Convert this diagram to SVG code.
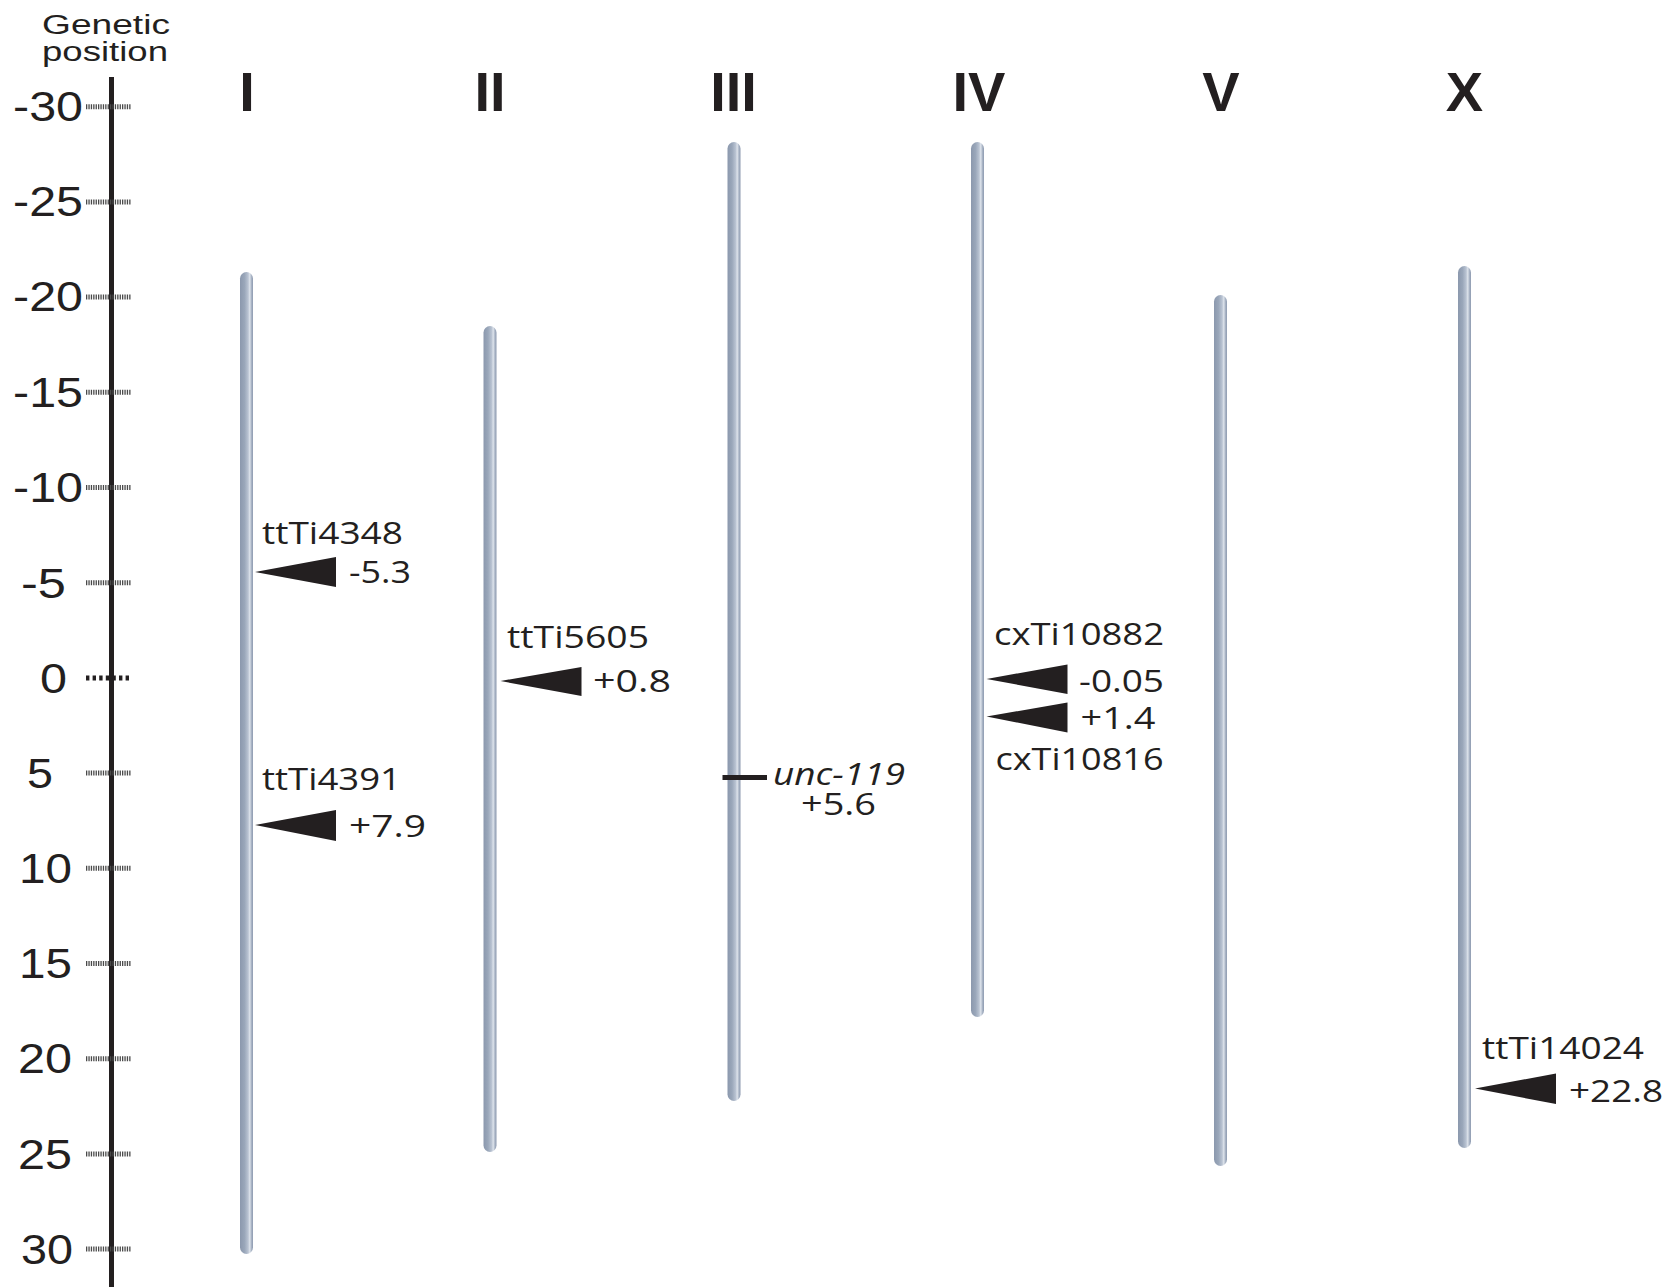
<svg xmlns="http://www.w3.org/2000/svg" width="1673" height="1287" viewBox="0 0 1673 1287">
<style>
.ax{font-family:"Liberation Sans",Arial,sans-serif;font-size:43px;fill:#231f20;text-anchor:end}
.hd{font-family:"Liberation Sans",Arial,sans-serif;font-size:27px;fill:#231f20}
.rn{font-family:"Liberation Sans",Arial,sans-serif;font-size:56px;font-weight:bold;fill:#231f20;text-anchor:middle}
.lb{font-family:"Open Sans","Liberation Sans",sans-serif;font-size:31px;fill:#231f20}
.it{font-style:italic}
.tick{stroke:#4a4a4a;stroke-width:5;stroke-dasharray:1.3,1.1;fill:none}
.tick0{stroke:#231f20;stroke-width:5;stroke-dasharray:3.4,3.2;fill:none}
.chr{fill:url(#cg)}
.arr{fill:#231f20}
</style>
<defs>
<linearGradient id="cg" x1="0" y1="0" x2="1" y2="0">
<stop offset="0" stop-color="#8b98ad"/>
<stop offset="0.35" stop-color="#9aa7ba"/>
<stop offset="0.62" stop-color="#b9c3d2"/>
<stop offset="0.75" stop-color="#dde3eb"/>
<stop offset="0.88" stop-color="#a9b4c5"/>
<stop offset="1" stop-color="#8d9ab0"/>
</linearGradient>
</defs>
<rect width="1673" height="1287" fill="#ffffff"/>

<g id="axis">
<text class="hd" x="42" y="34" textLength="128" lengthAdjust="spacingAndGlyphs">Genetic</text>
<text class="hd" x="42" y="61" textLength="126" lengthAdjust="spacingAndGlyphs">position</text>
<line x1="111.5" y1="77" x2="111.5" y2="1287" stroke="#231f20" stroke-width="5"/>
<line class="tick" x1="86" y1="106.7" x2="131" y2="106.7"/>
<line class="tick" x1="86" y1="201.9" x2="131" y2="201.9"/>
<line class="tick" x1="86" y1="297.1" x2="131" y2="297.1"/>
<line class="tick" x1="86" y1="392.3" x2="131" y2="392.3"/>
<line class="tick" x1="86" y1="487.5" x2="131" y2="487.5"/>
<line class="tick" x1="86" y1="582.7" x2="131" y2="582.7"/>
<line class="tick0" x1="86" y1="677.9" x2="131" y2="677.9"/>
<line class="tick" x1="86" y1="773.1" x2="131" y2="773.1"/>
<line class="tick" x1="86" y1="868.3" x2="131" y2="868.3"/>
<line class="tick" x1="86" y1="963.5" x2="131" y2="963.5"/>
<line class="tick" x1="86" y1="1058.7" x2="131" y2="1058.7"/>
<line class="tick" x1="86" y1="1153.9" x2="131" y2="1153.9"/>
<line class="tick" x1="86" y1="1249.1" x2="131" y2="1249.1"/>
<text class="ax" x="83" y="121" textLength="70" lengthAdjust="spacingAndGlyphs">-30</text>
<text class="ax" x="83" y="216" textLength="70" lengthAdjust="spacingAndGlyphs">-25</text>
<text class="ax" x="83" y="311" textLength="70" lengthAdjust="spacingAndGlyphs">-20</text>
<text class="ax" x="83" y="407" textLength="70" lengthAdjust="spacingAndGlyphs">-15</text>
<text class="ax" x="83" y="502" textLength="70" lengthAdjust="spacingAndGlyphs">-10</text>
<text class="ax" x="66" y="598" textLength="45" lengthAdjust="spacingAndGlyphs">-5</text>
<text class="ax" x="67" y="693" textLength="27" lengthAdjust="spacingAndGlyphs">0</text>
<text class="ax" x="53" y="788" textLength="26" lengthAdjust="spacingAndGlyphs">5</text>
<text class="ax" x="72" y="883" textLength="53" lengthAdjust="spacingAndGlyphs">10</text>
<text class="ax" x="72" y="978" textLength="53" lengthAdjust="spacingAndGlyphs">15</text>
<text class="ax" x="72" y="1073" textLength="54" lengthAdjust="spacingAndGlyphs">20</text>
<text class="ax" x="72" y="1169" textLength="54" lengthAdjust="spacingAndGlyphs">25</text>
<text class="ax" x="73" y="1264" textLength="52" lengthAdjust="spacingAndGlyphs">30</text>
</g>

<g id="chrI">
<text class="rn" x="247" y="111">I</text>
<rect class="chr" x="240" y="272" width="13" height="982" rx="6.5"/>
</g>
<g id="chrII">
<text class="rn" x="490" y="111">II</text>
<rect class="chr" x="483.5" y="326" width="13" height="826" rx="6.5"/>
</g>
<g id="chrIII">
<text class="rn" x="733.5" y="111">III</text>
<rect class="chr" x="727.5" y="142" width="13" height="959" rx="6.5"/>
</g>
<g id="chrIV">
<text class="rn" x="979" y="111">IV</text>
<rect class="chr" x="971" y="142" width="13" height="875" rx="6.5"/>
</g>
<g id="chrV">
<text class="rn" x="1221" y="111">V</text>
<rect class="chr" x="1214" y="295" width="13" height="871" rx="6.5"/>
</g>
<g id="chrX">
<text class="rn" x="1464.5" y="111">X</text>
<rect class="chr" x="1458" y="266" width="13" height="882" rx="6.5"/>
</g>

<g id="ttTi4348">
<polygon class="arr" points="255,572 336,557 336,587"/>
<text class="lb" x="262" y="544" textLength="141" lengthAdjust="spacingAndGlyphs">ttTi4348</text>
<text class="lb" x="349" y="583" textLength="62" lengthAdjust="spacingAndGlyphs">-5.3</text>
</g>
<g id="ttTi4391">
<polygon class="arr" points="255,825 336,810 336,841"/>
<text class="lb" x="262" y="790" textLength="139" lengthAdjust="spacingAndGlyphs">ttTi4391</text>
<text class="lb" x="349" y="837" textLength="77" lengthAdjust="spacingAndGlyphs">+7.9</text>
</g>
<g id="ttTi5605">
<polygon class="arr" points="500.5,681 581.5,667 581.5,696"/>
<text class="lb" x="507" y="648" textLength="142" lengthAdjust="spacingAndGlyphs">ttTi5605</text>
<text class="lb" x="593" y="692" textLength="78" lengthAdjust="spacingAndGlyphs">+0.8</text>
</g>
<g id="unc-119">
<line x1="722.5" y1="777.5" x2="767" y2="777.5" stroke="#231f20" stroke-width="5"/>
<text class="lb it" x="773" y="785" textLength="132" lengthAdjust="spacingAndGlyphs">unc-119</text>
<text class="lb" x="801" y="815" textLength="75" lengthAdjust="spacingAndGlyphs">+5.6</text>
</g>
<g id="cxTi10882">
<polygon class="arr" points="986.5,679 1067.5,664.5 1067.5,694"/>
<text class="lb" x="994" y="645" textLength="170" lengthAdjust="spacingAndGlyphs">cxTi10882</text>
<text class="lb" x="1079" y="691.5" textLength="85" lengthAdjust="spacingAndGlyphs">-0.05</text>
</g>
<g id="cxTi10816">
<polygon class="arr" points="986.5,716.5 1067.5,702.5 1067.5,732.5"/>
<text class="lb" x="1080.5" y="729" textLength="75" lengthAdjust="spacingAndGlyphs">+1.4</text>
<text class="lb" x="995.5" y="770" textLength="168" lengthAdjust="spacingAndGlyphs">cxTi10816</text>
</g>
<g id="ttTi14024">
<polygon class="arr" points="1475,1088.5 1556,1073.5 1556,1104"/>
<text class="lb" x="1482" y="1059" textLength="162" lengthAdjust="spacingAndGlyphs">ttTi14024</text>
<text class="lb" x="1569" y="1101.5" textLength="94" lengthAdjust="spacingAndGlyphs">+22.8</text>
</g>
<g id="connectors"></g>
</svg>
